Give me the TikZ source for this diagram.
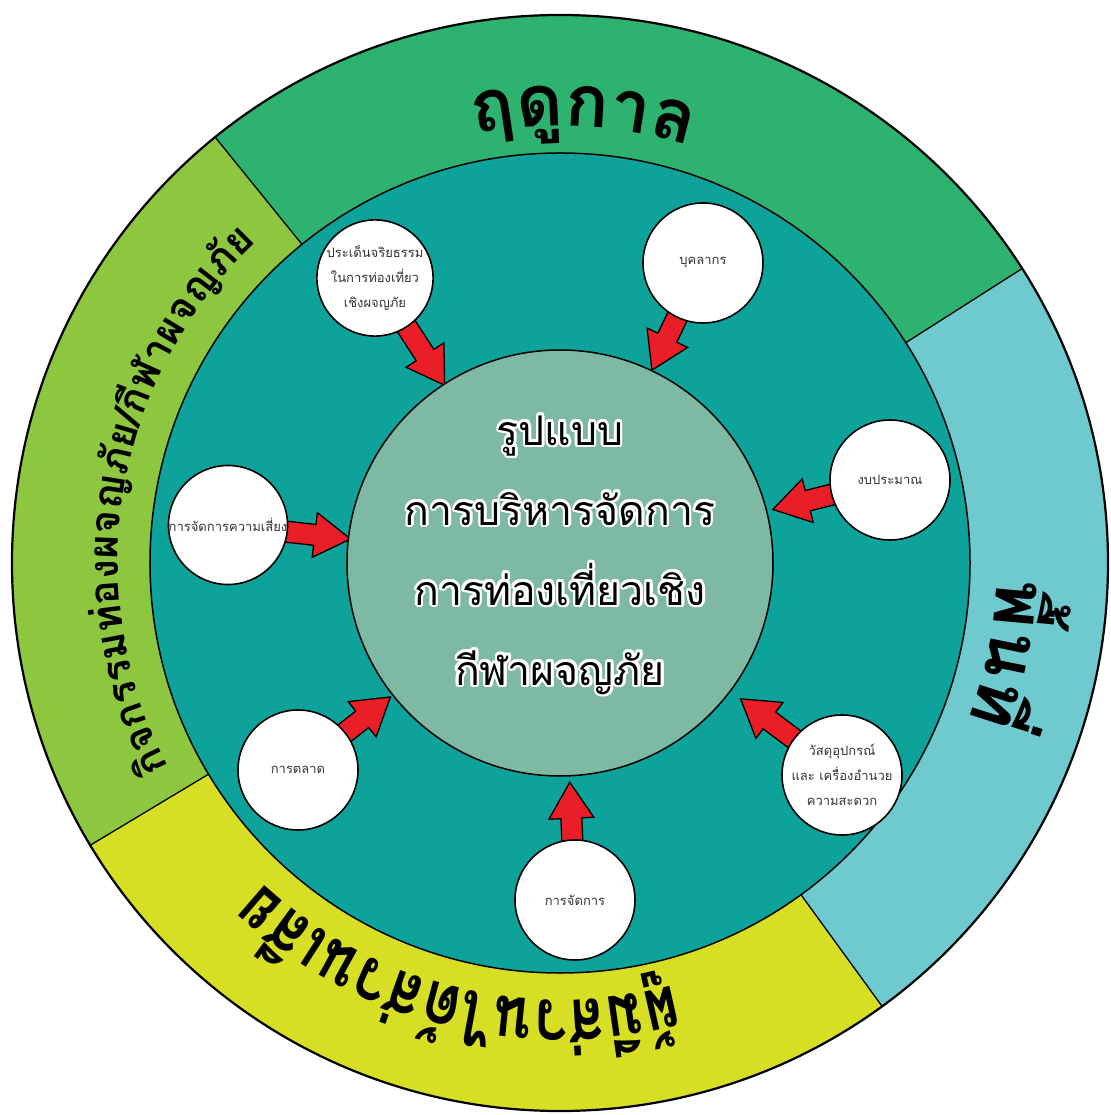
\documentclass[tikz,border=0pt]{standalone}
\usepackage{fontspec}
\usepackage{graphicx}
\setmainfont{Loma}[Script=Thai]
\usetikzlibrary{calc, backgrounds}

\definecolor{seasongreen}{RGB}{45,178,111}
\definecolor{activitygreen}{RGB}{141,198,63}
\definecolor{stakeyellow}{RGB}{214,223,35}
\definecolor{areacyan}{RGB}{111,202,208}
\definecolor{ringteal}{RGB}{14,163,154}
\definecolor{corefill}{RGB}{126,185,163}
\definecolor{arrowred}{RGB}{234,30,38}

\tikzset{
  smallcircle/.style={circle, draw=black, line width=1.6pt, fill=white,
    minimum size=120pt, inner sep=0pt, align=center,
    font=\fontsize{13}{25}\selectfont, text=black!80},
  fatarrow/.style={fill=arrowred, draw=black, line width=1.3pt, line join=miter},
  ringlabel/.style={anchor=base, inner sep=0pt},
  coretext/.style={align=center, font=\fontsize{41}{80}\selectfont},
}

\newcommand\bigringfont[1]{{\fontsize{72}{80}\selectfont\bfseries #1}}
\newcommand\narrowringfont[1]{\scalebox{0.8}[1]{\fontsize{72}{80}\selectfont\bfseries #1}}
\newcommand\smallringfont[1]{{\fontsize{41}{50}\selectfont\bfseries #1}}
\newcommand\coretitle{รูปแบบ\\การบริหารจัดการ\\การท่องเที่ยวเชิง\\กีฬาผจญภัย}

% text set along the ring, clockwise, letter tops outward
\newdimen\ringtotal
\newdimen\ringpos
\newdimen\ringcw
\newsavebox\ringbox
\newcommand\ringtext[4]{%
  \global\ringtotal=0pt
  \foreach \cl in {#4}{%
    \pgfinterruptpicture\global\setbox\ringbox=\hbox{#3{\cl}}\endpgfinterruptpicture
    \global\advance\ringtotal by \wd\ringbox}
  \global\ringpos=0pt
  \foreach \cl in {#4}{%
    \pgfinterruptpicture\global\setbox\ringbox=\hbox{#3{\cl}}\endpgfinterruptpicture
    \global\ringcw=\wd\ringbox
    \pgfmathsetmacro\ringang{#2+(0.5*\the\ringtotal-\the\ringpos-0.5*\the\ringcw)/#1*57.2958}%
    \pgfmathsetmacro\ringrot{\ringang-90}%
    \node[ringlabel, rotate=\ringrot] at (\ringang:#1) {#3{\cl}};
    \global\advance\ringpos by \ringcw
  }
}

% block arrow from a small circle towards the core
\newcommand\redarrow[3]{%
  \path (#1) -- (#2) coordinate[pos=0] (atail);
  \coordinate (astart) at ($(atail)!-8pt!(#2)$);
  \coordinate (atip) at ($(atail)!#3!(#2)$);
  \coordinate (aneck) at ($(atip)!36pt!(atail)$);
  \draw[fatarrow] ($(astart)!10.5pt!90:(atip)$) -- ($(aneck)!10.5pt!90:(atip)$)
    -- ($(aneck)!22.5pt!90:(atip)$) -- (atip) -- ($(aneck)!22.5pt!-90:(atip)$)
    -- ($(aneck)!10.5pt!-90:(atip)$) -- ($(astart)!10.5pt!-90:(atip)$) -- cycle;
}

\begin{document}
\begin{tikzpicture}[x=1pt, y=1pt]
\useasboundingbox (-560,-552) rectangle (550,563);
\begin{scope}[on background layer]
% Background
\fill[white] (-560,-552) rectangle (550,563);
% Draw sectors
\fill[seasongreen] (0,0) -- (32.5:548) arc[start angle=32.5, end angle=129, radius=548] -- cycle;
\fill[activitygreen] (0,0) -- (129:548) arc[start angle=129, end angle=211, radius=548] -- cycle;
\fill[stakeyellow] (0,0) -- (211:548) arc[start angle=211, end angle=306, radius=548] -- cycle;
\fill[areacyan] (0,0) -- (306:548) arc[start angle=306, end angle=392.5, radius=548] -- cycle;
% Draw dividers
\foreach \a in {32.5,129,211,306}
  \draw[line width=1.3pt] (\a:410) -- (\a:548);
% Draw outer circle
\draw[line width=2.2pt] (0,0) circle [radius=548];
% Draw teal ring
\filldraw[fill=ringteal, line width=1.5pt] (0,0) circle [radius=410];
\end{scope}

% Core circle
\node[circle, draw, line width=1.5pt, fill=corefill, minimum size=426pt, inner sep=0pt] (core) at (0,0) {};

% Small circles
\node[smallcircle, minimum size=116pt] (ethics) at (-185,285) {ประเด็นจริยธรรม\\ในการท่องเที่ยว\\เชิงผจญภัย};
\node[smallcircle] (staff) at (143,300) {บุคลากร};
\node[smallcircle, minimum size=116pt] (risk) at (-332,38) {การจัดการความเสี่ยง};
\node[smallcircle] (budget) at (330,83) {งบประมาณ};
\node[smallcircle] (equipment) at (282,-212) {วัสดุอุปกรณ์\\และ เครื่องอำนวย\\ความสะดวก};
\node[smallcircle] (marketing) at (-262,-207) {การตลาด};
\node[smallcircle] (managing) at (15,-337) {การจัดการ};

% Arrows
\begin{scope}[on background layer]
\redarrow{ethics}{core}{69pt}
\redarrow{staff}{core}{58pt}
\redarrow{risk}{core}{63pt}
\redarrow{budget}{core}{60pt}
\redarrow{equipment}{core}{66pt}
\redarrow{marketing}{core}{57pt}
\redarrow{managing}{core}{57pt}
\end{scope}

% Core title with white outline
\foreach \a in {0,30,...,330}
  \node[coretext, text=white] at ([shift={(\a:2.5)}]0,8) {\coretitle};
\node[coretext] (title) at (0,8) {\coretitle};

% Ring labels
\ringtext{437}{87}{\bigringfont}{ฤ,ดู,ก,า,ล}
\ringtext{442}{170.5}{\smallringfont}{กิ,จ,ก,ร,ร,ม,ท่,อ,ง,ผ,จ,ญ,ภั,ย,/,กี,ฬ,า,ผ,จ,ญ,ภั,ย}
\ringtext{437}{-11.5}{\bigringfont}{พื้,น,ที่}
\ringtext{437}{256}{\narrowringfont}{ผู้,มี,ส่,ว,น,ไ,ด้,ส่,ว,น,เ,สี,ย}
\end{tikzpicture}
\end{document}
